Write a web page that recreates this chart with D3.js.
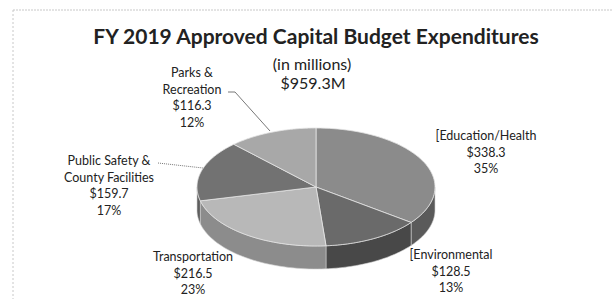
<!DOCTYPE html>
<html>
<head>
<meta charset="utf-8">
<script src="https://cdn.jsdelivr.net/npm/d3@7"></script>
<style>
  body { margin: 0; background: #fff; }
  svg { display: block; }
  text { font-family: Lato, "Open Sans", sans-serif; fill: #222; }
</style>
</head>
<body>
<svg id="chart" width="613" height="299"></svg>
<script>
// data
var categories = ["[Education/Health", "[Environmental", "Transportation", "Public Safety &|County Facilities", "Parks &|Recreation"];
var values = [338.3, 128.5, 216.5, 159.7, 116.3];
var totalLabel = "$959.3M";

// greys for the top and side faces
var topColors = ["#8b8b8b", "#6a6a6a", "#b8b8b8", "#727272", "#a8a8a8"];
var sideColors = ["#5a5a5a", "#484848", "#8c8c8c", "#5e5e5e", "#7a7a7a"];

// label anchor (center x, first baseline y)
var labelPos = [[486, 140], [451, 259], [193, 261], [109, 165], [192, 77]];

var svg = d3.select("#chart");
var W = 613, H = 299;

// dotted frame
svg.append("line").attr("x1", 13).attr("y1", 10).attr("x2", W).attr("y2", 10)
   .style("stroke", "#c8c8c8").style("stroke-dasharray", "2,1");
svg.append("line").attr("x1", 13).attr("y1", 10).attr("x2", 13).attr("y2", H)
   .style("stroke", "#c8c8c8").style("stroke-dasharray", "2,2");

// titles
svg.append("text").attr("x", 316).attr("y", 44).attr("text-anchor", "middle")
   .style("font-size", "21px").style("font-weight", "bold")
   .text("FY 2019 Approved Capital Budget Expenditures");
svg.append("text").attr("x", 312).attr("y", 70).attr("text-anchor", "middle")
   .style("font-size", "16px").text("(in millions)");
svg.append("text").attr("x", 313).attr("y", 89).attr("text-anchor", "middle")
   .style("font-size", "16px").text(totalLabel);

// pie geometry
var cx = 316, cy = 187, rx = 119, ry = 59, depth = 23;
var total = d3.sum(values);
var pie = d3.pie().sort(null).startAngle(0).endAngle(2 * Math.PI);
var arcs = pie(values);

function px(a) { return cx + rx * Math.sin(a); }
function py(a, dz) { return cy - ry * Math.cos(a) + (dz || 0); }

function topPath(d) {
  var p = d3.path();
  p.moveTo(cx, cy);
  var n = 60;
  for (var i = 0; i <= n; i++) {
    var a = d.startAngle + (d.endAngle - d.startAngle) * i / n;
    p.lineTo(px(a), py(a));
  }
  p.closePath();
  return p.toString();
}

function sidePath(d) {
  // only front half (angles between PI/2 and 3PI/2) is visible
  var a0 = Math.max(d.startAngle, Math.PI / 2);
  var a1 = Math.min(d.endAngle, 3 * Math.PI / 2);
  if (a1 <= a0) return null;
  var p = d3.path(), n = 40, i, a;
  p.moveTo(px(a0), py(a0));
  for (i = 1; i <= n; i++) { a = a0 + (a1 - a0) * i / n; p.lineTo(px(a), py(a)); }
  for (i = n; i >= 0; i--) { a = a0 + (a1 - a0) * i / n; p.lineTo(px(a), py(a, depth)); }
  p.closePath();
  return p.toString();
}

var pieG = svg.append("g");
pieG.selectAll(".side").data(arcs).enter()
    .filter(function(d) { return sidePath(d) != null; })
    .append("path").attr("class", "side")
    .attr("d", sidePath)
    .style("fill", function(d) { return sideColors[d.index]; })
    .style("stroke", "#d0d0d0").style("stroke-width", 0.6);

pieG.selectAll(".top").data(arcs).enter()
    .append("path").attr("class", "top")
    .attr("d", topPath)
    .style("fill", function(d) { return topColors[d.index]; })
    .style("stroke", "#e4e4e4").style("stroke-width", 0.8);

// leader lines
svg.append("polyline").attr("points", "228,92 235,92 270,131")
   .style("fill", "none").style("stroke", "#555").style("stroke-width", 0.8);
svg.append("polyline").attr("points", "158,163 203,168")
   .style("fill", "none").style("stroke", "#555").style("stroke-width", 0.8)
   .style("stroke-dasharray", "1,1");

// data labels
arcs.forEach(function(d, i) {
  var lines = categories[i].split("|");
  lines.push("$" + values[i].toFixed(1));
  lines.push(Math.round(values[i] / total * 100) + "%");
  var t = svg.append("text").attr("text-anchor", "middle")
     .style("font-size", "12.5px");
  lines.forEach(function(s, j) {
    t.append("tspan").attr("x", labelPos[i][0]).attr("y", labelPos[i][1] + j * 16.5).text(s);
  });
});
</script>
</body>
</html>
